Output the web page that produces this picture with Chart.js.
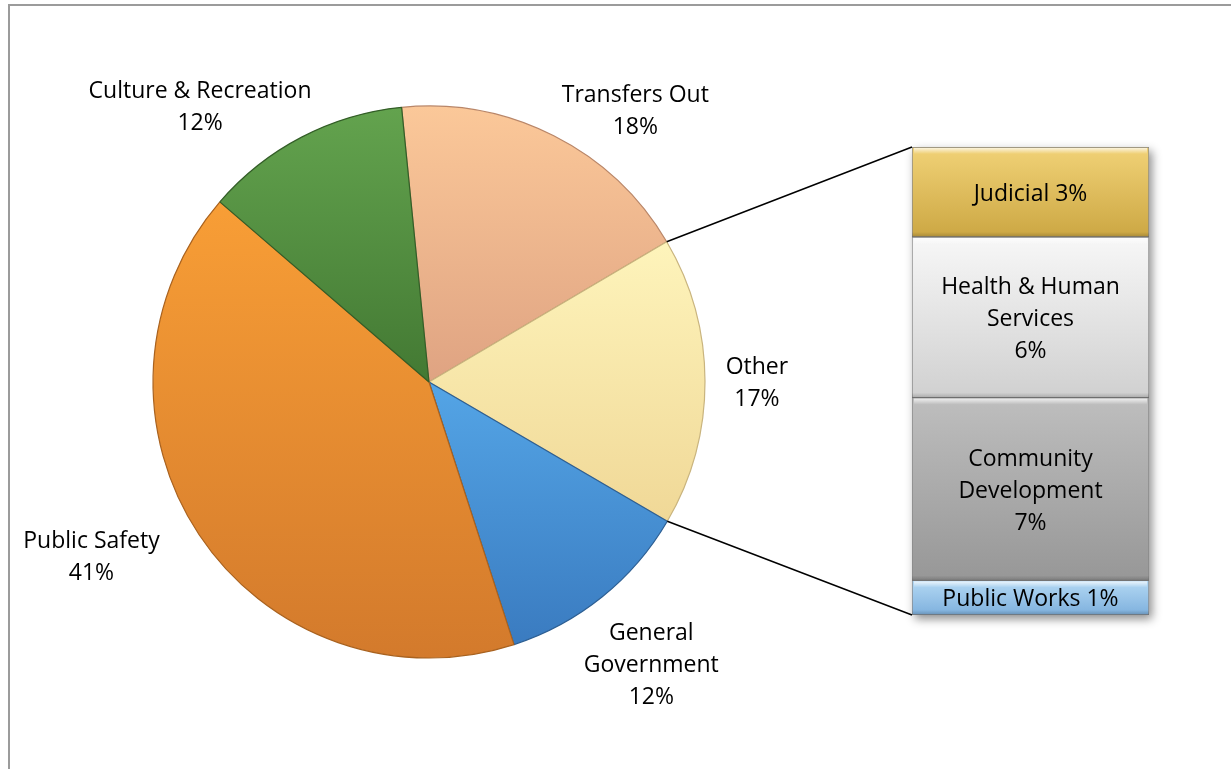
<!DOCTYPE html>
<html>
<head>
<meta charset="utf-8">
<script src="https://cdn.jsdelivr.net/npm/chart.js@4.4.1/dist/chart.umd.min.js"></script>
<style>
  html, body { margin: 0; padding: 0; background: #fff; }
  body { width: 1231px; height: 769px; position: relative; overflow: hidden; }
  #frame { position: absolute; left: 8px; top: 4px; width: 1240px; height: 800px; border-left: 2px solid #9b9b9b; border-top: 2px solid #9b9b9b; }
  #pieBox { position: absolute; left: 0; top: 0; width: 1231px; height: 769px; }
  #barBox { position: absolute; left: 900px; top: 135px; width: 270px; height: 500px; }
</style>
</head>
<body>
<div id="frame"></div>
<div id="pieBox"><canvas id="pieChart"></canvas></div>
<div id="barBox"><canvas id="barChart"></canvas></div>
<script>
// spending shares (percent), clockwise from the top
let pieNames = ['Transfers Out', 'Other', 'General Government', 'Public Safety', 'Culture & Recreation']
let pieValues = [18.1, 16.9, 11.6, 41.3, 12.1]
let pieLabelLines = [['Transfers Out'], ['Other'], ['General', 'Government'], ['Public Safety'], ['Culture & Recreation']]
let otherIndex = 1

// breakdown of "Other", top to bottom
let barNames = ['Judicial', 'Health & Human Services', 'Community Development', 'Public Works']
let barValues = [3.25, 5.8, 6.6, 1.25]
let barLabelLines = [['Judicial'], ['Health & Human', 'Services'], ['Community', 'Development'], ['Public Works']]
let barPctInline = [true, false, false, true]

// colours: light (top) and dark (bottom) end of each gradient
let pieTop = ['#FBC899', '#FEF4BB', '#54A5E6', '#F89E36', '#63A34E']
let pieBottom = ['#DFA382', '#F0D897', '#3A7BC0', '#D37A2C', '#437933']
let pieEdge = ['#B98668', '#C9B47E', '#2D5F93', '#A9621F', '#335E27']
let barTop = ['#F1D277', '#F7F7F7', '#BEBEBE', '#B4D9F4']
let barBottom = ['#CCA743', '#D0D0D0', '#979797', '#7EB0DD']

// label placement around the pie: [angle shift in degrees, distance as share of radius]
let labelSpots = [[10.3, 1.237], [0, 1.188], [0.5, 1.299], [6.4, 1.375], [-12.1, 1.302]]

let labelFont = '23px "Open Sans"'
let lineHeight = 32
let pieRadius = 276

Chart.defaults.font.family = '"Open Sans"'

function pctText(v)
{
    return Math.round(v) + '%'
}

function drawLines(ctx, lines, cx, cy)
{
    ctx.save()
    ctx.font = labelFont
    ctx.fillStyle = '#000'
    ctx.textAlign = 'center'
    ctx.textBaseline = 'alphabetic'
    let y0 = cy - (lines.length - 1) * lineHeight / 2
    for (let i = 0; i < lines.length; i++)
    {
        ctx.fillText(lines[i], cx, y0 + i * lineHeight + 8.5)
    }
    ctx.restore()
}

// vertical extent of a pie slice
function arcSpan(a)
{
    let ys = [a.y, a.y + a.outerRadius * Math.sin(a.startAngle), a.y + a.outerRadius * Math.sin(a.endAngle)]
    for (let k = -2; k <= 2; k++)
    {
        let up = -Math.PI / 2 + 2 * Math.PI * k
        let down = Math.PI / 2 + 2 * Math.PI * k
        if (up > a.startAngle && up < a.endAngle) ys.push(a.y - a.outerRadius)
        if (down > a.startAngle && down < a.endAngle) ys.push(a.y + a.outerRadius)
    }
    return [Math.min(...ys), Math.max(...ys)]
}

function pieFill(c)
{
    let i = c.dataIndex
    if (i === undefined) return '#ccc'
    let arc = c.chart.getDatasetMeta(0).data[i]
    if (!arc || !arc.outerRadius) return pieTop[i]
    let span = arcSpan(arc)
    let g = c.chart.ctx.createLinearGradient(0, span[0], 0, span[1])
    g.addColorStop(0, pieTop[i])
    g.addColorStop(1, pieBottom[i])
    return g
}

function barFill(c)
{
    let i = c.datasetIndex
    let el = c.chart.getDatasetMeta(i).data[0]
    if (!el || el.base === undefined || isNaN(el.y)) return barTop[i]
    let top = Math.min(el.y, el.base), bottom = Math.max(el.y, el.base)
    let g = c.chart.ctx.createLinearGradient(0, top, 0, bottom)
    g.addColorStop(0, barTop[i])
    g.addColorStop(1, barBottom[i])
    return g
}

function barRect(el)
{
    let top = Math.min(el.y, el.base), bottom = Math.max(el.y, el.base)
    return { left: el.x - el.width / 2, right: el.x + el.width / 2, top: top, bottom: bottom }
}

// bar of "Other"
let barShadow = {
    id: 'barShadow',
    beforeDatasetsDraw(chart)
    {
        let first = barRect(chart.getDatasetMeta(0).data[0])
        let last = barRect(chart.getDatasetMeta(barValues.length - 1).data[0])
        let ctx = chart.ctx
        ctx.save()
        ctx.shadowColor = 'rgba(0,0,0,0.45)'
        ctx.shadowBlur = 9
        ctx.shadowOffsetX = 3
        ctx.shadowOffsetY = 4
        ctx.fillStyle = '#999'
        ctx.fillRect(first.left, first.top, first.right - first.left, last.bottom - first.top)
        ctx.restore()
    },
    afterDatasetsDraw(chart)
    {
        let ctx = chart.ctx
        for (let i = 0; i < barValues.length; i++)
        {
            let r = barRect(chart.getDatasetMeta(i).data[0])
            // bevel: light rim on top, dark rim at the bottom
            ctx.save()
            let hi = ctx.createLinearGradient(0, r.top, 0, r.top + 7)
            hi.addColorStop(0, 'rgba(255,255,255,0.85)')
            hi.addColorStop(1, 'rgba(255,255,255,0)')
            ctx.fillStyle = hi
            ctx.fillRect(r.left + 2, r.top + 1, r.right - r.left - 4, 7)
            let lo = ctx.createLinearGradient(0, r.bottom - 5, 0, r.bottom)
            lo.addColorStop(0, 'rgba(0,0,0,0)')
            lo.addColorStop(1, 'rgba(0,0,0,0.18)')
            ctx.fillStyle = lo
            ctx.fillRect(r.left, r.bottom - 5, r.right - r.left, 5)
            ctx.restore()

            let lines = barLabelLines[i].slice()
            if (barPctInline[i]) lines[lines.length - 1] += ' ' + pctText(barValues[i])
            else lines.push(pctText(barValues[i]))
            drawLines(ctx, lines, (r.left + r.right) / 2, (r.top + r.bottom) / 2)
        }
    }
}

let barChart = new Chart(document.getElementById('barChart'), {
    type: 'bar',
    data: {
        labels: ['Other'],
        datasets: barNames.map((name, i) => ({
            label: name,
            data: [barValues[i]],
            backgroundColor: barFill,
            borderColor: 'rgba(0,0,0,0.12)',
            borderWidth: 1,
            borderSkipped: false,
            barPercentage: 1,
            categoryPercentage: 1
        }))
    },
    options: {
        responsive: true,
        maintainAspectRatio: false,
        animation: false,
        events: [],
        layout: { padding: { left: 12, right: 21, top: 12, bottom: 20 } },
        plugins: { legend: { display: false }, tooltip: { enabled: false } },
        scales: {
            x: { display: false, stacked: true },
            y: { display: false, stacked: true, reverse: true, min: 0, max: barValues.reduce((a, b) => a + b, 0) }
        }
    },
    plugins: [barShadow]
})
barChart.update()

// slice labels and the two lines joining "Other" to its bar
let pieExtras = {
    id: 'pieExtras',
    afterDraw(chart)
    {
        let ctx = chart.ctx
        let arcs = chart.getDatasetMeta(0).data
        for (let i = 0; i < arcs.length; i++)
        {
            let a = arcs[i]
            let ang = (a.startAngle + a.endAngle) / 2 + labelSpots[i][0] * Math.PI / 180
            let d = a.outerRadius * labelSpots[i][1]
            let lines = pieLabelLines[i].concat([pctText(pieValues[i])])
            drawLines(ctx, lines, a.x + d * Math.cos(ang), a.y + d * Math.sin(ang))
        }

        let other = arcs[otherIndex]
        let pieRect = chart.canvas.getBoundingClientRect()
        let barBox = barChart.canvas.getBoundingClientRect()
        let dx = barBox.left - pieRect.left, dy = barBox.top - pieRect.top
        let first = barRect(barChart.getDatasetMeta(0).data[0])
        let last = barRect(barChart.getDatasetMeta(barValues.length - 1).data[0])
        let R = other.outerRadius
        ctx.save()
        ctx.strokeStyle = '#000'
        ctx.lineWidth = 1.5
        ctx.beginPath()
        ctx.moveTo(other.x + R * Math.cos(other.startAngle), other.y + R * Math.sin(other.startAngle))
        ctx.lineTo(first.left + dx, first.top + dy)
        ctx.moveTo(other.x + R * Math.cos(other.endAngle), other.y + R * Math.sin(other.endAngle))
        ctx.lineTo(last.left + dx, last.bottom + dy)
        ctx.stroke()
        ctx.restore()
    }
}

let pieChart = new Chart(document.getElementById('pieChart'), {
    type: 'pie',
    data: {
        labels: pieNames,
        datasets: [{
            data: pieValues,
            backgroundColor: pieFill,
            borderColor: pieEdge,
            borderWidth: 1.2
        }]
    },
    options: {
        responsive: true,
        maintainAspectRatio: false,
        animation: false,
        events: [],
        rotation: -5.7,
        radius: pieRadius,
        layout: { padding: { left: 0, right: 373, top: 0, bottom: 5 } },
        plugins: { legend: { display: false }, tooltip: { enabled: false } }
    },
    plugins: [pieExtras]
})
pieChart.update()
</script>
</body>
</html>
